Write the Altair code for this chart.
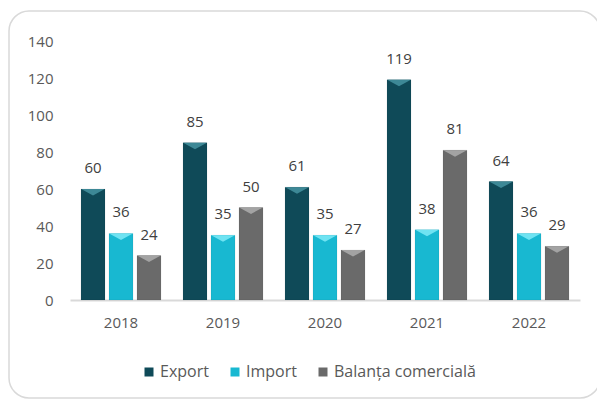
import altair as alt
import pandas as pd

years = ["2018", "2019", "2020", "2021", "2022"]
series = ["Export", "Import", "Balanța comercială"]
export_vals = [60, 85, 61, 119, 64]
import_vals = [36, 35, 35, 38, 36]
balanta_vals = [24, 50, 27, 81, 29]
colors = ["#0f4a58", "#18b8d1", "#6a6a6a"]
top_colors = ["#3d8896", "#6fe3f2", "#a3a3a3"]

rows = []
for s, vals, tc in zip(series, [export_vals, import_vals, balanta_vals], top_colors):
    for y, v in zip(years, vals):
        rows.append({"An": y, "Serie": s, "Valoare": v, "Top": tc})
df = pd.DataFrame(rows)

FONT = "Open Sans"

x = alt.X(
    "An:N",
    sort=years,
    scale=alt.Scale(paddingInner=0.216, paddingOuter=0.108),
    axis=alt.Axis(
        title=None, labelAngle=0, ticks=False, domainColor="#d9d9d9",
        domainWidth=2, labelPadding=15, labelFontSize=15,
        labelColor="#595959", labelFont=FONT,
    ),
)
xo = alt.XOffset("Serie:N", sort=series, scale=alt.Scale(domain=series, paddingInner=0.143))
y = alt.Y(
    "Valoare:Q",
    scale=alt.Scale(domain=[0, 140], nice=False),
    axis=alt.Axis(
        title=None, values=[0, 20, 40, 60, 80, 100, 120, 140], domain=False,
        ticks=False, grid=False, labelPadding=17, labelFontSize=15,
        labelColor="#595959", labelFont=FONT,
    ),
)

base = alt.Chart(df)

bars = base.mark_bar(stroke="#00000022", strokeWidth=0.5).encode(
    x=x, xOffset=xo, y=y,
    color=alt.Color(
        "Serie:N", sort=series,
        scale=alt.Scale(domain=series, range=colors),
        legend=alt.Legend(
            title=None, orient="none", legendX=71, legendY=323,
            direction="horizontal", symbolType="square", symbolSize=81,
            labelFontSize=16, labelColor="#595959", labelFont=FONT,
            columnPadding=18, symbolStrokeWidth=0, labelOffset=3,
        ),
    ),
)

tops = base.mark_point(
    shape="M-1,0L1,0L0,0.55Z", filled=True, opacity=1, size=560, strokeWidth=0
).encode(
    x=x, xOffset=xo, y=y,
    color=alt.Color("Top:N", scale=None),
)

labels = base.mark_text(dy=-21, fontSize=15, color="#404040", font=FONT).encode(
    x=x, xOffset=xo, y=y, text=alt.Text("Valoare:Q"),
)

frame = alt.Chart(pd.DataFrame({"a": [0]})).mark_rect(
    fillOpacity=0, stroke="#d9d9d9", strokeWidth=1.5, cornerRadius=20, clip=False
).encode(
    x=alt.value(-61), x2=alt.value(530), y=alt.value(-30), y2=alt.value(357),
)

chart = alt.layer(frame, bars, tops, labels).resolve_scale(color="independent").properties(
    width=510, height=259,
    autosize="none",
    padding={"left": 62, "top": 33, "right": 17, "bottom": 99},
    background="white",
).configure_view(stroke=None)

chart.save("out.html", embed_options={"renderer": "svg", "actions": False})
